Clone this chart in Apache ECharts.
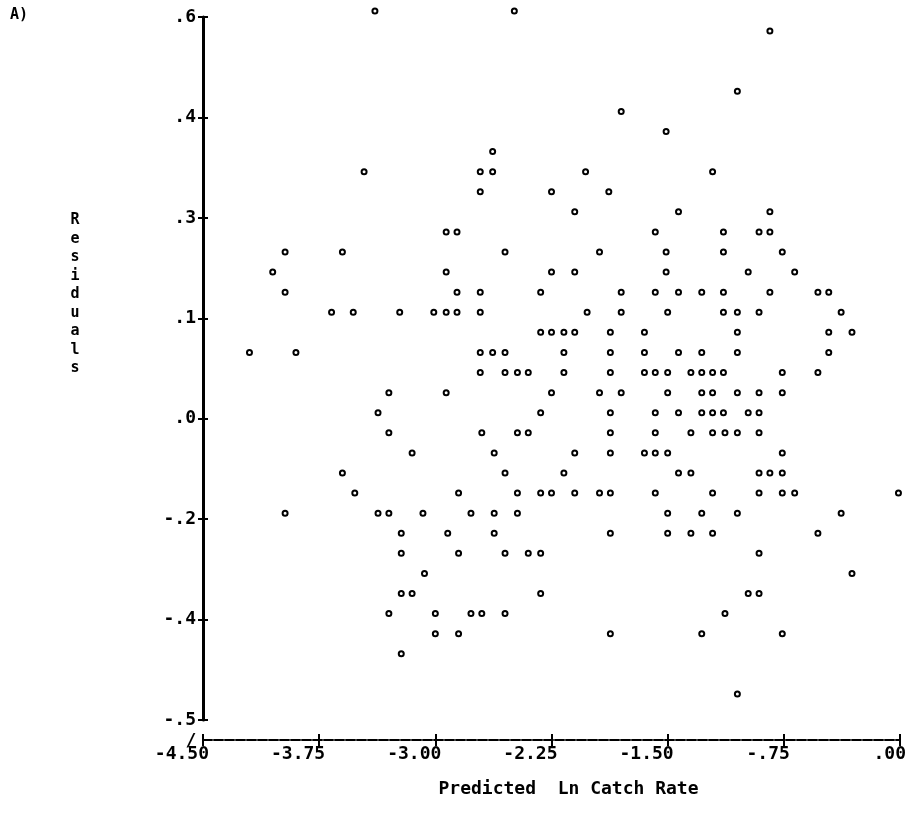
<!DOCTYPE html>
<html>
<head>
<meta charset="utf-8">
<title>Residuals vs Predicted Ln Catch Rate</title>
<script src="https://cdn.jsdelivr.net/npm/echarts@6/dist/echarts.min.js"></script>
<style>
  html, body { margin: 0; padding: 0; background: #fff; }
  #chart { width: 919px; height: 819px; }
</style>
</head>
<body>
<div id="chart"></div>
<script>
// tick labels as printed on the plot
const xTickLabels = ['-4.50', '-3.75', '-3.00', '-2.25', '-1.50', '-.75', '.00']
const yTickLabels = ['-.5', '-.4', '-.2', '.0', '.1', '.3', '.4', '.6']

// residual levels (one printer row each) and the predicted values on each row
const residualLevels = [
  0.60, 0.57, 0.48, 0.45, 0.42, 0.39, 0.36, 0.33, 0.30, 0.27,
  0.24, 0.21, 0.18, 0.15, 0.12, 0.09, 0.06, 0.03, 0.00, -0.03,
  -0.06, -0.09, -0.12, -0.15, -0.18, -0.21, -0.24, -0.27, -0.30, -0.33,
  -0.36, -0.42
]
const predictedByLevel = [
  [-3.39, -2.49],
  [-0.84],
  [-1.05],
  [-1.80],
  [-1.51],
  [-2.63],
  [-3.46, -2.71, -2.63, -2.03, -1.21],
  [-2.71, -2.25, -1.88],
  [-2.10, -1.43, -0.84],
  [-2.93, -2.86, -1.58, -1.14, -0.91, -0.84],
  [-3.97, -3.60, -2.55, -1.94, -1.51, -1.14, -0.76],
  [-4.05, -2.93, -2.25, -2.10, -1.51, -0.98, -0.68],
  [-3.97, -2.86, -2.71, -2.32, -1.80, -1.58, -1.43, -1.28, -1.14, -0.84, -0.53, -0.46],
  [-3.67, -3.53, -3.23, -3.01, -2.93, -2.86, -2.71, -2.02, -1.80, -1.50, -1.14, -1.05, -0.91, -0.38],
  [-2.32, -2.25, -2.17, -2.10, -1.87, -1.65, -1.05, -0.46, -0.31],
  [-4.20, -3.90, -2.71, -2.63, -2.55, -2.17, -1.87, -1.65, -1.43, -1.28, -1.05, -0.46],
  [-2.71, -2.55, -2.47, -2.40, -2.17, -1.87, -1.65, -1.58, -1.50, -1.35, -1.28, -1.21, -1.14, -0.76, -0.53],
  [-3.30, -2.93, -2.25, -1.94, -1.80, -1.50, -1.28, -1.21, -1.05, -0.91, -0.76],
  [-3.37, -2.32, -1.87, -1.58, -1.43, -1.28, -1.21, -1.14, -0.98, -0.91],
  [-3.30, -2.70, -2.47, -2.40, -1.87, -1.58, -1.35, -1.21, -1.13, -1.05, -0.91],
  [-3.15, -2.62, -2.10, -1.87, -1.65, -1.58, -1.50, -0.76],
  [-3.60, -2.55, -2.17, -1.43, -1.35, -0.91, -0.84, -0.76],
  [-3.52, -2.85, -2.47, -2.32, -2.25, -2.10, -1.94, -1.87, -1.58, -1.21, -0.91, -0.76, -0.68, -0.01],
  [-3.97, -3.37, -3.30, -3.08, -2.77, -2.62, -2.47, -1.50, -1.28, -1.05, -0.38],
  [-3.22, -2.92, -2.62, -1.87, -1.50, -1.35, -1.21, -0.53],
  [-3.22, -2.85, -2.55, -2.40, -2.32, -0.91],
  [-3.07, -0.31],
  [-3.22, -3.15, -2.32, -0.98, -0.91],
  [-3.30, -3.00, -2.77, -2.70, -2.55, -1.13],
  [-3.00, -2.85, -1.87, -1.28, -0.76],
  [-3.22],
  [-1.05]
]

const font = 'DejaVu Sans Mono'

const points = []
residualLevels.forEach((r, i) => {
  predictedByLevel[i].forEach(p => points.push([p, r]))
})

const chart = echarts.init(document.getElementById('chart'))

const xBase = {
  type: 'value',
  min: -4.5,
  max: 0,
  interval: 0.75,
  position: 'bottom',
  offset: 20,
  splitLine: { show: false }
}
const yBase = {
  type: 'value',
  min: -0.45,
  max: 0.6,
  interval: 0.15,
  position: 'left',
  splitLine: { show: false }
}

chart.setOption({
  backgroundColor: '#fff',
  animation: false,
  grid: { left: 203, right: 19, top: 17, bottom: 99 },
  xAxis: [
    Object.assign({}, xBase, {
      name: 'Predicted  Ln Catch Rate',
      nameLocation: 'middle',
      nameGap: 40,
      nameTextStyle: { fontFamily: font, fontWeight: 'bold', fontSize: 18, color: '#000', padding: [0, 0, 0, 34] },
      axisLine: { onZero: false, lineStyle: { color: '#000', width: 2, type: [9, 2] } },
      axisTick: { length: 6, lineStyle: { color: '#000', width: 2 } },
      axisLabel: {
        fontFamily: font, fontWeight: 'bold', fontSize: 18, color: '#000',
        margin: 5, align: 'right', padding: [0, -6, 0, 0],
        formatter: v => xTickLabels[Math.round((v + 4.5) / 0.75)]
      }
    }),
    Object.assign({}, xBase, {
      axisLine: { show: false, onZero: false },
      axisTick: { inside: true, length: 6, lineStyle: { color: '#000', width: 2 } },
      axisLabel: { show: false }
    })
  ],
  yAxis: [
    Object.assign({}, yBase, {
      axisLine: { onZero: false, lineStyle: { color: '#000', width: 3 } },
      axisTick: { length: 5, lineStyle: { color: '#000', width: 2 } },
      axisLabel: {
        fontFamily: font, fontWeight: 'bold', fontSize: 18, color: '#000', margin: 7,
        formatter: v => yTickLabels[Math.round((v + 0.45) / 0.15)]
      }
    }),
    Object.assign({}, yBase, {
      axisLine: { show: false, onZero: false },
      axisTick: { inside: true, length: 5, lineStyle: { color: '#000', width: 2 } },
      axisLabel: { show: false }
    })
  ],
  graphic: [
    { type: 'text', left: 10, top: 8, style: { text: 'A)', font: 'bold 15px "DejaVu Sans Mono"', fill: '#000' } },
    {
      type: 'text', x: 75, y: 211,
      style: {
        text: 'R\ne\ns\ni\nd\nu\na\nl\ns', align: 'center', lineHeight: 18.5,
        font: 'bold 15px "DejaVu Sans Mono"', fill: '#000'
      }
    },
    { type: 'text', x: 191, y: 741, style: { text: '/', align: 'center', verticalAlign: 'middle', font: 'bold 18px "DejaVu Sans Mono"', fill: '#000' } }
  ],
  series: [{
    type: 'scatter',
    data: points,
    clip: false,
    symbol: 'circle',
    symbolSize: 5,
    symbolOffset: [0, -6],
    itemStyle: { color: '#fff', borderColor: '#000', borderWidth: 2, opacity: 1 }
  }]
})
</script>
</body>
</html>
